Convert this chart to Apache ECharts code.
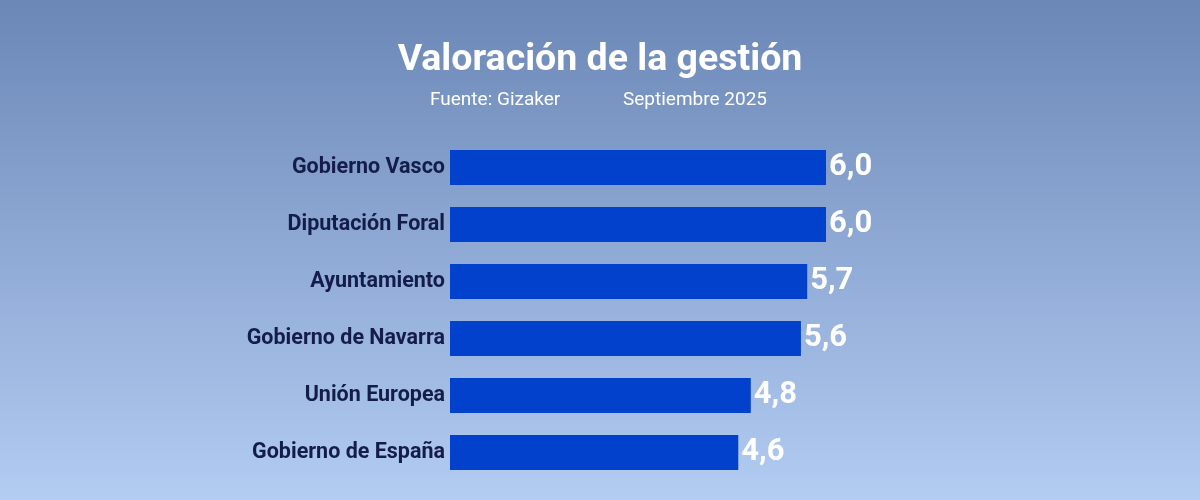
<!DOCTYPE html>
<html>
<head>
<meta charset="utf-8">
<script src="https://cdn.jsdelivr.net/npm/echarts@6/dist/echarts.min.js"></script>
<style>
  html, body { margin: 0; padding: 0; }
  #chart { width: 1200px; height: 500px; }
</style>
</head>
<body>
<div id="chart"></div>
<script>
// data
const categories = [
    'Gobierno Vasco',
    'Diputación Foral',
    'Ayuntamiento',
    'Gobierno de Navarra',
    'Unión Europea',
    'Gobierno de España'
];
const values = [6.0, 6.0, 5.7, 5.6, 4.8, 4.6];

const titleText = 'Valoración de la gestión';
const sourceText = 'Fuente: Gizaker';
const dateText = 'Septiembre 2025';

var myChart = echarts.init(document.getElementById('chart'));

var option = {
    backgroundColor: {
        type: 'linear', x: 0, y: 0, x2: 0, y2: 1,
        colorStops: [
            { offset: 0, color: '#6b87b6' },
            { offset: 1, color: '#b2ccf2' }
        ]
    },
    textStyle: { fontFamily: 'Roboto' },
    title: [{
        text: titleText,
        left: 'center',
        top: 37,
        textStyle: { color: '#ffffff', fontSize: 37.5, fontWeight: 'bold', fontFamily: 'Roboto' }
    }, {
        text: sourceText,
        left: 425,
        top: 86,
        textStyle: { color: '#ffffff', fontSize: 19, fontWeight: 'normal', fontFamily: 'Roboto' }
    }, {
        text: dateText,
        left: 618,
        top: 86,
        textStyle: { color: '#ffffff', fontSize: 19, fontWeight: 'normal', fontFamily: 'Roboto' }
    }],
    grid: { left: 450, right: 374, top: 139, bottom: 19 },
    xAxis: {
        type: 'value',
        min: 0,
        max: 6,
        show: false
    },
    yAxis: {
        type: 'category',
        data: categories,
        inverse: true,
        axisLine: { show: false },
        axisTick: { show: false },
        splitLine: { show: false },
        axisLabel: {
            color: '#141c4a',
            fontSize: 21.5,
            fontWeight: 'bold',
            fontFamily: 'Roboto',
            margin: 5
        }
    },
    series: [{
        type: 'bar',
        data: values,
        barWidth: 35,
        itemStyle: { color: '#0241cc' },
        label: {
            show: true,
            position: 'right',
            distance: 3,
            color: '#ffffff',
            fontSize: 31,
            fontWeight: 'bold',
            fontFamily: 'Roboto',
            formatter: function(p) {
                return p.value.toFixed(1).replace('.', ',');
            }
        },
        animation: false
    }],
    animation: false
};

myChart.setOption(option);
</script>
</body>
</html>
